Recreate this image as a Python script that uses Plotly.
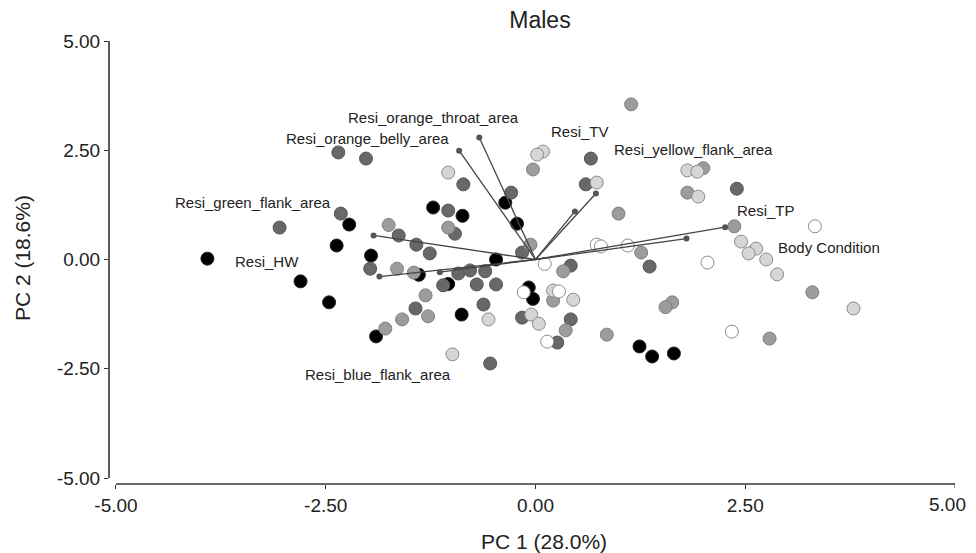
import plotly.graph_objects as go

# ---- data ----
black_x = [-3.91, -2.80, -2.46, -2.37, -2.22, -1.96, -1.90, -1.22, -0.87, -0.36, -0.22, -0.47, -1.39, -1.04, -0.88, -0.08, -0.03, 1.24, 1.39, 1.65]
black_y = [0.02, -0.50, -0.98, 0.32, 0.80, 0.09, -1.76, 1.19, 1.00, 1.30, 0.82, 0.00, -0.35, -0.56, -1.26, -0.64, -0.90, -1.99, -2.22, -2.15]

dark_x = [-2.35, -2.02, -2.32, -3.05, -1.63, -1.42, -1.26, -1.04, -0.96, -0.86, -0.29, 0.66, 0.60, 2.40, 1.36, -1.97, -0.16, 0.42, -0.92, -0.78, -0.60, -1.10, -0.70, -0.47, -1.43, -0.62, -0.54, -0.16, 0.42, 0.26]
dark_y = [2.45, 2.31, 1.05, 0.73, 0.55, 0.34, 0.14, 1.12, 0.59, 1.72, 1.53, 2.31, 1.72, 1.62, -0.16, -0.21, 0.16, -0.14, -0.32, -0.25, -0.27, -0.59, -0.57, -0.57, -1.12, -1.03, -2.38, -1.33, -1.37, -1.90]

medium_x = [-1.75, -1.04, -0.03, 1.14, 0.99, 2.00, 1.81, 2.37, 1.26, -0.06, 0.33, -1.65, -1.45, -1.31, -1.28, -1.59, -1.79, 0.21, 0.36, 0.85, 1.63, 1.55, 2.79, 3.30]
medium_y = [0.79, 0.73, 2.06, 3.55, 1.05, 2.09, 1.53, 0.76, 0.16, 0.34, -0.27, -0.21, -0.30, -0.82, -1.30, -1.37, -1.58, -0.94, -1.62, -1.72, -0.98, -1.09, -1.81, -0.75]

light_x = [-1.04, 0.09, 0.02, 0.73, 1.81, 1.93, 1.94, 2.45, 2.63, 2.54, 2.75, 2.88, 3.79, -0.56, -0.99, 0.21, 0.45, -0.05, 0.04]
light_y = [1.99, 2.47, 2.40, 1.76, 2.04, 2.01, 1.44, 0.41, 0.25, 0.14, 0.00, -0.34, -1.12, -1.37, -2.17, -0.71, -0.92, -1.26, -1.47]

white_x = [3.33, 0.73, 0.78, 1.10, 2.05, 2.34, 0.11, -0.14, 0.28, 0.14]
white_y = [0.76, 0.34, 0.30, 0.32, -0.07, -1.65, -0.10, -0.75, -0.73, -1.88]

load_names = ["Resi_orange_throat_area", "Resi_orange_belly_area", "Resi_TV", "Resi_yellow_flank_area",
              "Resi_TP", "Body Condition", "Resi_green_flank_area", "Resi_HW", "Resi_blue_flank_area"]
load_x = [-0.67, -0.91, 0.72, 0.47, 2.26, 1.80, -1.93, -1.86, -1.14]
load_y = [2.79, 2.49, 1.51, 1.10, 0.74, 0.48, 0.55, -0.39, -0.29]
label_x = [-1.22, -2.00, 0.53, 1.88, 2.75, 3.50, -3.37, -3.20, -1.88]
label_y = [3.25, 2.77, 2.93, 2.52, 1.12, 0.27, 1.30, -0.05, -2.63]

tick_vals = [-5, -2.5, 0, 2.5, 5]
tick_text = ["-5.00", "-2.50", "0.00", "2.50", "5.00"]

FONT = "Arial, Liberation Sans, sans-serif"

fig = go.Figure()

groups = [
    (black_x, black_y, "#000000", "#222222"),
    (dark_x, dark_y, "#686868", "#555555"),
    (medium_x, medium_y, "#9c9c9c", "#808080"),
    (light_x, light_y, "#d6d6d6", "#8c8c8c"),
    (white_x, white_y, "#ffffff", "#8c8c8c"),
]
for gx, gy, fill, edge in groups:
    fig.add_trace(go.Scatter(x=gx, y=gy, mode="markers",
                             marker=dict(size=13, color=fill, line=dict(color=edge, width=1)),
                             showlegend=False, hoverinfo="skip"))

# loading vectors
for ex, ey in zip(load_x, load_y):
    fig.add_trace(go.Scatter(x=[0, ex], y=[0, ey], mode="lines",
                             line=dict(color="#444444", width=1.3),
                             showlegend=False, hoverinfo="skip"))
fig.add_trace(go.Scatter(x=load_x, y=load_y, mode="markers",
                         marker=dict(size=6, color="#555555"),
                         showlegend=False, hoverinfo="skip"))

for name, lx, ly in zip(load_names, label_x, label_y):
    fig.add_annotation(x=lx, y=ly, text=name, showarrow=False,
                       font=dict(family=FONT, size=15, color="#222222"))

# offset axis lines
fig.add_shape(type="line", xref="x", yref="paper", x0=-5, x1=5, y0=0, y1=0,
              line=dict(color="#333333", width=1.6))
fig.add_shape(type="line", xref="paper", yref="y", x0=0, x1=0, y0=-5, y1=5,
              line=dict(color="#333333", width=1.6))

# last x tick label, kept inside the page's right edge
fig.add_annotation(xref="paper", yref="paper", x=(960 - 101) / 846, xanchor="right",
                   y=-0.0474, yanchor="middle", text=tick_text[-1], showarrow=False,
                   font=dict(family=FONT, size=19, color="#222222"))

fig.add_annotation(xref="paper", yref="paper", x=0.514, y=-0.1287, yanchor="middle",
                   text="PC 1 (28.0%)", showarrow=False,
                   font=dict(family=FONT, size=21, color="#222222"))
fig.add_annotation(xref="paper", y=0.51, yref="paper", x=-0.1028, xanchor="center",
                   text="PC 2 (18.6%)", showarrow=False, textangle=-90,
                   font=dict(family=FONT, size=21, color="#222222"))

fig.update_layout(
    width=960, height=545,
    margin=dict(l=101, r=13, t=33, b=69),
    paper_bgcolor="white", plot_bgcolor="white",
    title=dict(text="Males", x=532/960, xanchor="center", y=1 - 12/545, yanchor="middle",
               font=dict(family=FONT, size=23, color="#222222")),
    font=dict(family=FONT, color="#222222"),
)
fig.update_xaxes(range=[-5.083, 5.0], showgrid=False, zeroline=False, showline=False,
                 tickvals=tick_vals[:-1], ticktext=tick_text[:-1], ticks="outside", ticklen=4,
                 tickcolor="#333333", tickfont=dict(family=FONT, size=19, color="#222222"))
fig.update_yaxes(range=[-5.137, 5.0], showgrid=False, zeroline=False, showline=False,
                 tickvals=tick_vals, ticktext=tick_text, ticks="outside", ticklen=4,
                 tickcolor="#333333", tickfont=dict(family=FONT, size=19, color="#222222"))

# tick mark for the last x tick
fig.add_shape(type="line", xref="x", yref="paper", x0=5, x1=5, y0=0, y1=-4 / 443,
              line=dict(color="#333333", width=1))

fig.write_html("out.html", config={"displayModeBar": False})
